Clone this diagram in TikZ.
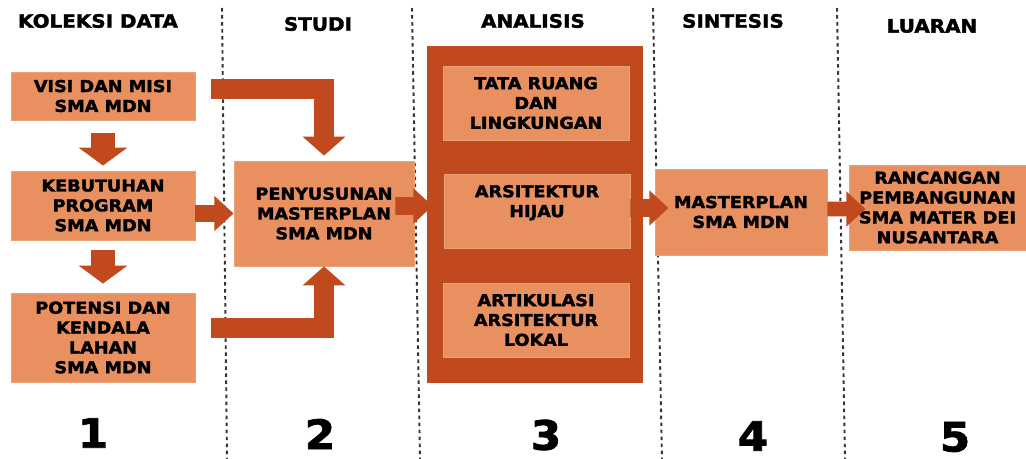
\documentclass[tikz,border=0pt]{standalone}
\usepackage{fontspec}
\setmainfont{DejaVu Sans}[FakeStretch=1.08, BoldFeatures={FakeBold=2}]
\usepackage{tikz}
\usetikzlibrary{arrows.meta}
\definecolor{boxlight}{RGB}{232,144,96}
\definecolor{boxdark}{RGB}{192,73,30}
\tikzset{every node/.style={inner sep=0pt, align=center, font=\bfseries\fontsize{9.3}{11.3}\selectfont}}
\tikzset{
  lbox/.style={fill=boxlight, draw=boxlight!85!white, line width=0.5pt},
  dbox/.style={fill=boxdark},
  head/.style={font=\bfseries\fontsize{10.5}{12}\selectfont},
  num/.style={font=\bfseries\fontsize{23}{26}\selectfont},
  barrow/.style={draw=boxdark, line width=14pt, -{Triangle[length=10.2pt, width=27.2pt]}},
  harrow/.style={draw=boxdark, line width=10.2pt, -{Triangle[length=11pt, width=19.5pt]}},
  earrow/.style={draw=boxdark, line width=11.3pt, line join=miter, -{Triangle[length=10.8pt, width=23.8pt]}},
  sep/.style={draw=black!80, line width=1.1pt, dash pattern=on 2pt off 2pt}
}

\begin{document}
\begin{tikzpicture}[x=0.02cm, y=-0.02cm]
\useasboundingbox (0,0) rectangle (1026,459);

\draw[sep] (222,8) -- (227,459);
\draw[sep] (412,8) -- (420,459);
\draw[sep] (653,8) -- (662,459);
\draw[sep] (837,8) -- (845,459);

\node[head] (h1) at (98,21) {KOLEKSI DATA};
\node[head] (h2) at (318,24) {STUDI};
\node[head] (h3) at (533,21) {ANALISIS};
\node[head] (h4) at (733,21) {SINTESIS};
\node[head] (h5) at (932,26) {LUARAN};

\node[lbox, minimum width=3.68cm, minimum height=0.96cm] (d1) at (103,96) {VISI DAN MISI\\SMA MDN};
\node[lbox, minimum width=3.68cm, minimum height=1.38cm] (d2) at (103,205.5) {KEBUTUHAN\\PROGRAM\\SMA MDN};
\node[lbox, minimum width=3.68cm, minimum height=1.78cm] (d3) at (103,337.5) {POTENSI DAN\\KENDALA\\LAHAN\\SMA MDN};
\node[lbox, minimum width=3.6cm, minimum height=2.1cm] (st) at (324,213.5) {PENYUSUNAN\\MASTERPLAN\\SMA MDN};

\node[dbox, minimum width=4.32cm, minimum height=6.74cm] (an) at (535,214.5) {};
\begin{scope}[every node/.append style={lbox, minimum width=3.72cm, minimum height=1.48cm}]
\node (a1) at (536,103) {TATA RUANG\\DAN\\LINGKUNGAN};
\node (a2) at (537,211) {ARSITEKTUR\\HIJAU\\~};
\node (a3) at (536,320) {ARTIKULASI\\ARSITEKTUR\\LOKAL};
\end{scope}

\node[lbox, minimum width=3.44cm, minimum height=1.72cm] (sn) at (741,212) {MASTERPLAN\\SMA MDN};
\node[lbox, minimum width=3.54cm, minimum height=1.7cm] (lu) at (937.5,207.5) {RANCANGAN\\PEMBANGUNAN\\SMA MATER DEI\\NUSANTARA};

\coordinate (e1) at (211,89);
\coordinate (e2) at (211,328);
\draw[earrow, shorten >=0.1cm] (e1) -| (st.north);
\draw[earrow] (e2) -| (st.south);
\draw[barrow, shorten <=0.26cm, shorten >=0.1cm] (d1.south) -- (d2.north);
\draw[barrow, shorten <=0.2cm, shorten >=0.18cm] (d2.south) -- (d3.north);
\draw[harrow] (d2.east |- st.west) -- (st.west);
\draw[harrow, shorten <=-0.38cm, shorten >=-0.12cm] ([yshift=0.15cm]st.east) -- ([yshift=0.17cm]an.west);
\draw[harrow, shorten <=-0.26cm, shorten >=-0.28cm] ([yshift=0.13cm]an.east) -- ([yshift=0.08cm]sn.west);
\draw[harrow, line width=8.5pt, shorten >=-0.34cm] ([yshift=0.06cm]sn.east) -- ([yshift=-0.03cm]lu.west);

\node[num] (n1) at (93,433) {1};
\node[num] (n2) at (320,434) {2};
\node[num] (n3) at (546,435) {3};
\node[num] (n4) at (753,436) {4};
\node[num] (n5) at (955,437) {5};
\end{tikzpicture}
\end{document}
